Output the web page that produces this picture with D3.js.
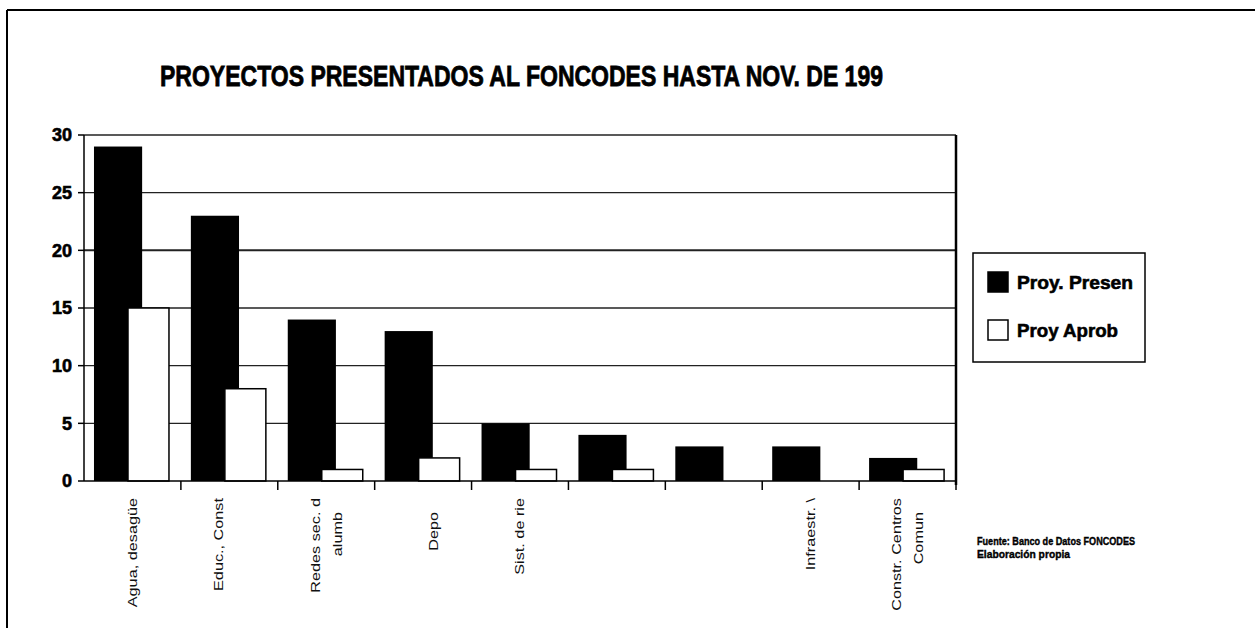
<!DOCTYPE html>
<html><head><meta charset="utf-8">
<script src="https://cdn.jsdelivr.net/npm/d3@7"></script>
<style>body{margin:0;background:#fff}svg{display:block}</style>
</head><body>
<svg id="c" width="1255" height="628"></svg>
<script>
const categories = [
  ["Agua, desagüe"],
  ["Educ., Const", ""],
  ["Redes sec. d", "alumb"],
  ["", "Depo"],
  ["Sist. de rie"],
  [""],
  [""],
  ["Infraestr. \\"],
  ["Constr. Centros", "Comun"]
];
const seriesNames = ["Proy. Presen", "Proy Aprob"];
const presentados = [29, 23, 14, 13, 5, 4, 3, 3, 2];
const aprobados   = [15, 8, 1, 2, 1, 1, 0, 0, 1];
const yTicks = [0, 5, 10, 15, 20, 25, 30];
const titleText = "PROYECTOS PRESENTADOS AL FONCODES HASTA NOV. DE 199";
const sourceLines = ["Fuente: Banco de Datos FONCODES", "Elaboración propia"];

const svg = d3.select("#c");
const font = "'Liberation Sans', Arial, sans-serif";

// outer frame
svg.append("line").attr("x1",7).attr("x2",1255).attr("y1",10).attr("y2",10).attr("stroke","#000").attr("stroke-width",2);
svg.append("line").attr("x1",7).attr("x2",7).attr("y1",10).attr("y2",628).attr("stroke","#000").attr("stroke-width",2);

// title
svg.append("text").attr("x",160).attr("y",86).attr("font-family",font).attr("font-weight","bold")
  .attr("font-size",29).attr("textLength",723).attr("lengthAdjust","spacingAndGlyphs")
  .attr("stroke","#000").attr("stroke-width",0.8)
  .text(titleText);

const L = 84, R = 956, T = 135, B = 481;
const x = d3.scaleBand().domain(d3.range(categories.length)).range([L, R]).padding(0);
const y = d3.scaleLinear().domain([0, 30]).range([B, T]);
const bw = x.bandwidth();

// gridlines
svg.append("g").selectAll("line").data(yTicks.filter(d => d > 0)).join("line")
  .attr("x1", L).attr("x2", R).attr("y1", d => y(d)).attr("y2", d => y(d))
  .attr("stroke", "#222").attr("stroke-width", d => d === 20 ? 2 : 1.4);

// bars
const barPres = svg.append("g");
barPres.selectAll("rect").data(presentados).join("rect")
  .attr("x", (d,i) => x(i) + bw*0.103).attr("width", bw*0.497)
  .attr("y", d => y(d)).attr("height", d => y(0) - y(d)).attr("fill", "#000");
const barApr = svg.append("g");
barApr.selectAll("rect").data(aprobados.map((v,i)=>({v,i})).filter(d => d.v > 0)).join("rect")
  .attr("x", d => x(d.i) + bw*0.454).attr("width", bw*0.423)
  .attr("y", d => y(d.v)).attr("height", d => y(0) - y(d.v))
  .attr("fill", "#fff").attr("stroke", "#000").attr("stroke-width", 1.5);

// axes lines
svg.append("line").attr("x1",L).attr("x2",L).attr("y1",T).attr("y2",B).attr("stroke","#000").attr("stroke-width",1.5);
svg.append("line").attr("x1",R).attr("x2",R).attr("y1",T).attr("y2",B+4).attr("stroke","#000").attr("stroke-width",2.5);
svg.append("line").attr("x1",L).attr("x2",R).attr("y1",B).attr("y2",B).attr("stroke","#000").attr("stroke-width",1.5);

// y axis ticks & labels
const yg = svg.append("g");
yg.selectAll("line").data(yTicks).join("line")
  .attr("x1", L-6).attr("x2", L).attr("y1", d => y(d)).attr("y2", d => y(d))
  .attr("stroke","#000").attr("stroke-width",1.5);
yg.selectAll("text").data(yTicks).join("text")
  .attr("x", 72).attr("y", d => y(d)).attr("dy","0.36em")
  .attr("text-anchor","end").attr("font-family",font).attr("font-weight","bold")
  .attr("font-size",18).attr("stroke","#000").attr("stroke-width",0.6).text(d => d);

// x ticks at boundaries
const bounds = d3.range(categories.length).map(i => x(i) + bw);
svg.append("g").selectAll("line").data(bounds).join("line")
  .attr("x1", d => d).attr("x2", d => d).attr("y1", B).attr("y2", B+9)
  .attr("stroke","#000").attr("stroke-width",1.5);

// x labels (rotated)
const xl = svg.append("g");
categories.forEach((lines, i) => {
  const cx = x(i) + bw/2;
  const n = lines.length;
  lines.forEach((t, j) => {
    if (!t) return;
    const lx = cx + (j - (n-1)/2) * 22;
    const ly = j === 0 ? 498 : 512;
    xl.append("text")
      .attr("transform", `translate(${lx},${ly}) rotate(-90) scale(1.3,1)`)
      .attr("text-anchor","end").attr("dy","0.35em")
      .attr("font-family",font).attr("font-size",12.5).attr("fill","#111")
      .text(t);
  });
});

// legend
const lg = svg.append("g");
lg.append("rect").attr("x",973).attr("y",253).attr("width",172).attr("height",109)
  .attr("fill","#fff").attr("stroke","#000").attr("stroke-width",1.5);
const legFill = ["#000", "#fff"];
const legLen = [116, 101];
const legY = d3.scalePoint().domain(seriesNames).range([282, 330]);
seriesNames.forEach((s, i) => {
  lg.append("rect").attr("x",988).attr("y",legY(s)-10).attr("width",20).attr("height",20)
    .attr("fill",legFill[i]).attr("stroke","#000").attr("stroke-width",1.5);
  lg.append("text").attr("x",1017).attr("y",legY(s)).attr("dy","0.36em")
    .attr("font-family",font).attr("font-weight","bold").attr("font-size",19)
    .attr("stroke","#000").attr("stroke-width",0.6)
    .attr("textLength",legLen[i]).attr("lengthAdjust","spacingAndGlyphs").text(s);
});

// source
const srcLen = [158, 93];
sourceLines.forEach((s, i) => {
  svg.append("text").attr("x",977).attr("y",545 + i*13)
    .attr("font-family",font).attr("font-weight","bold").attr("font-size",11)
    .attr("stroke","#000").attr("stroke-width",0.4)
    .attr("textLength",srcLen[i]).attr("lengthAdjust","spacingAndGlyphs").text(s);
});
</script>
</body></html>
